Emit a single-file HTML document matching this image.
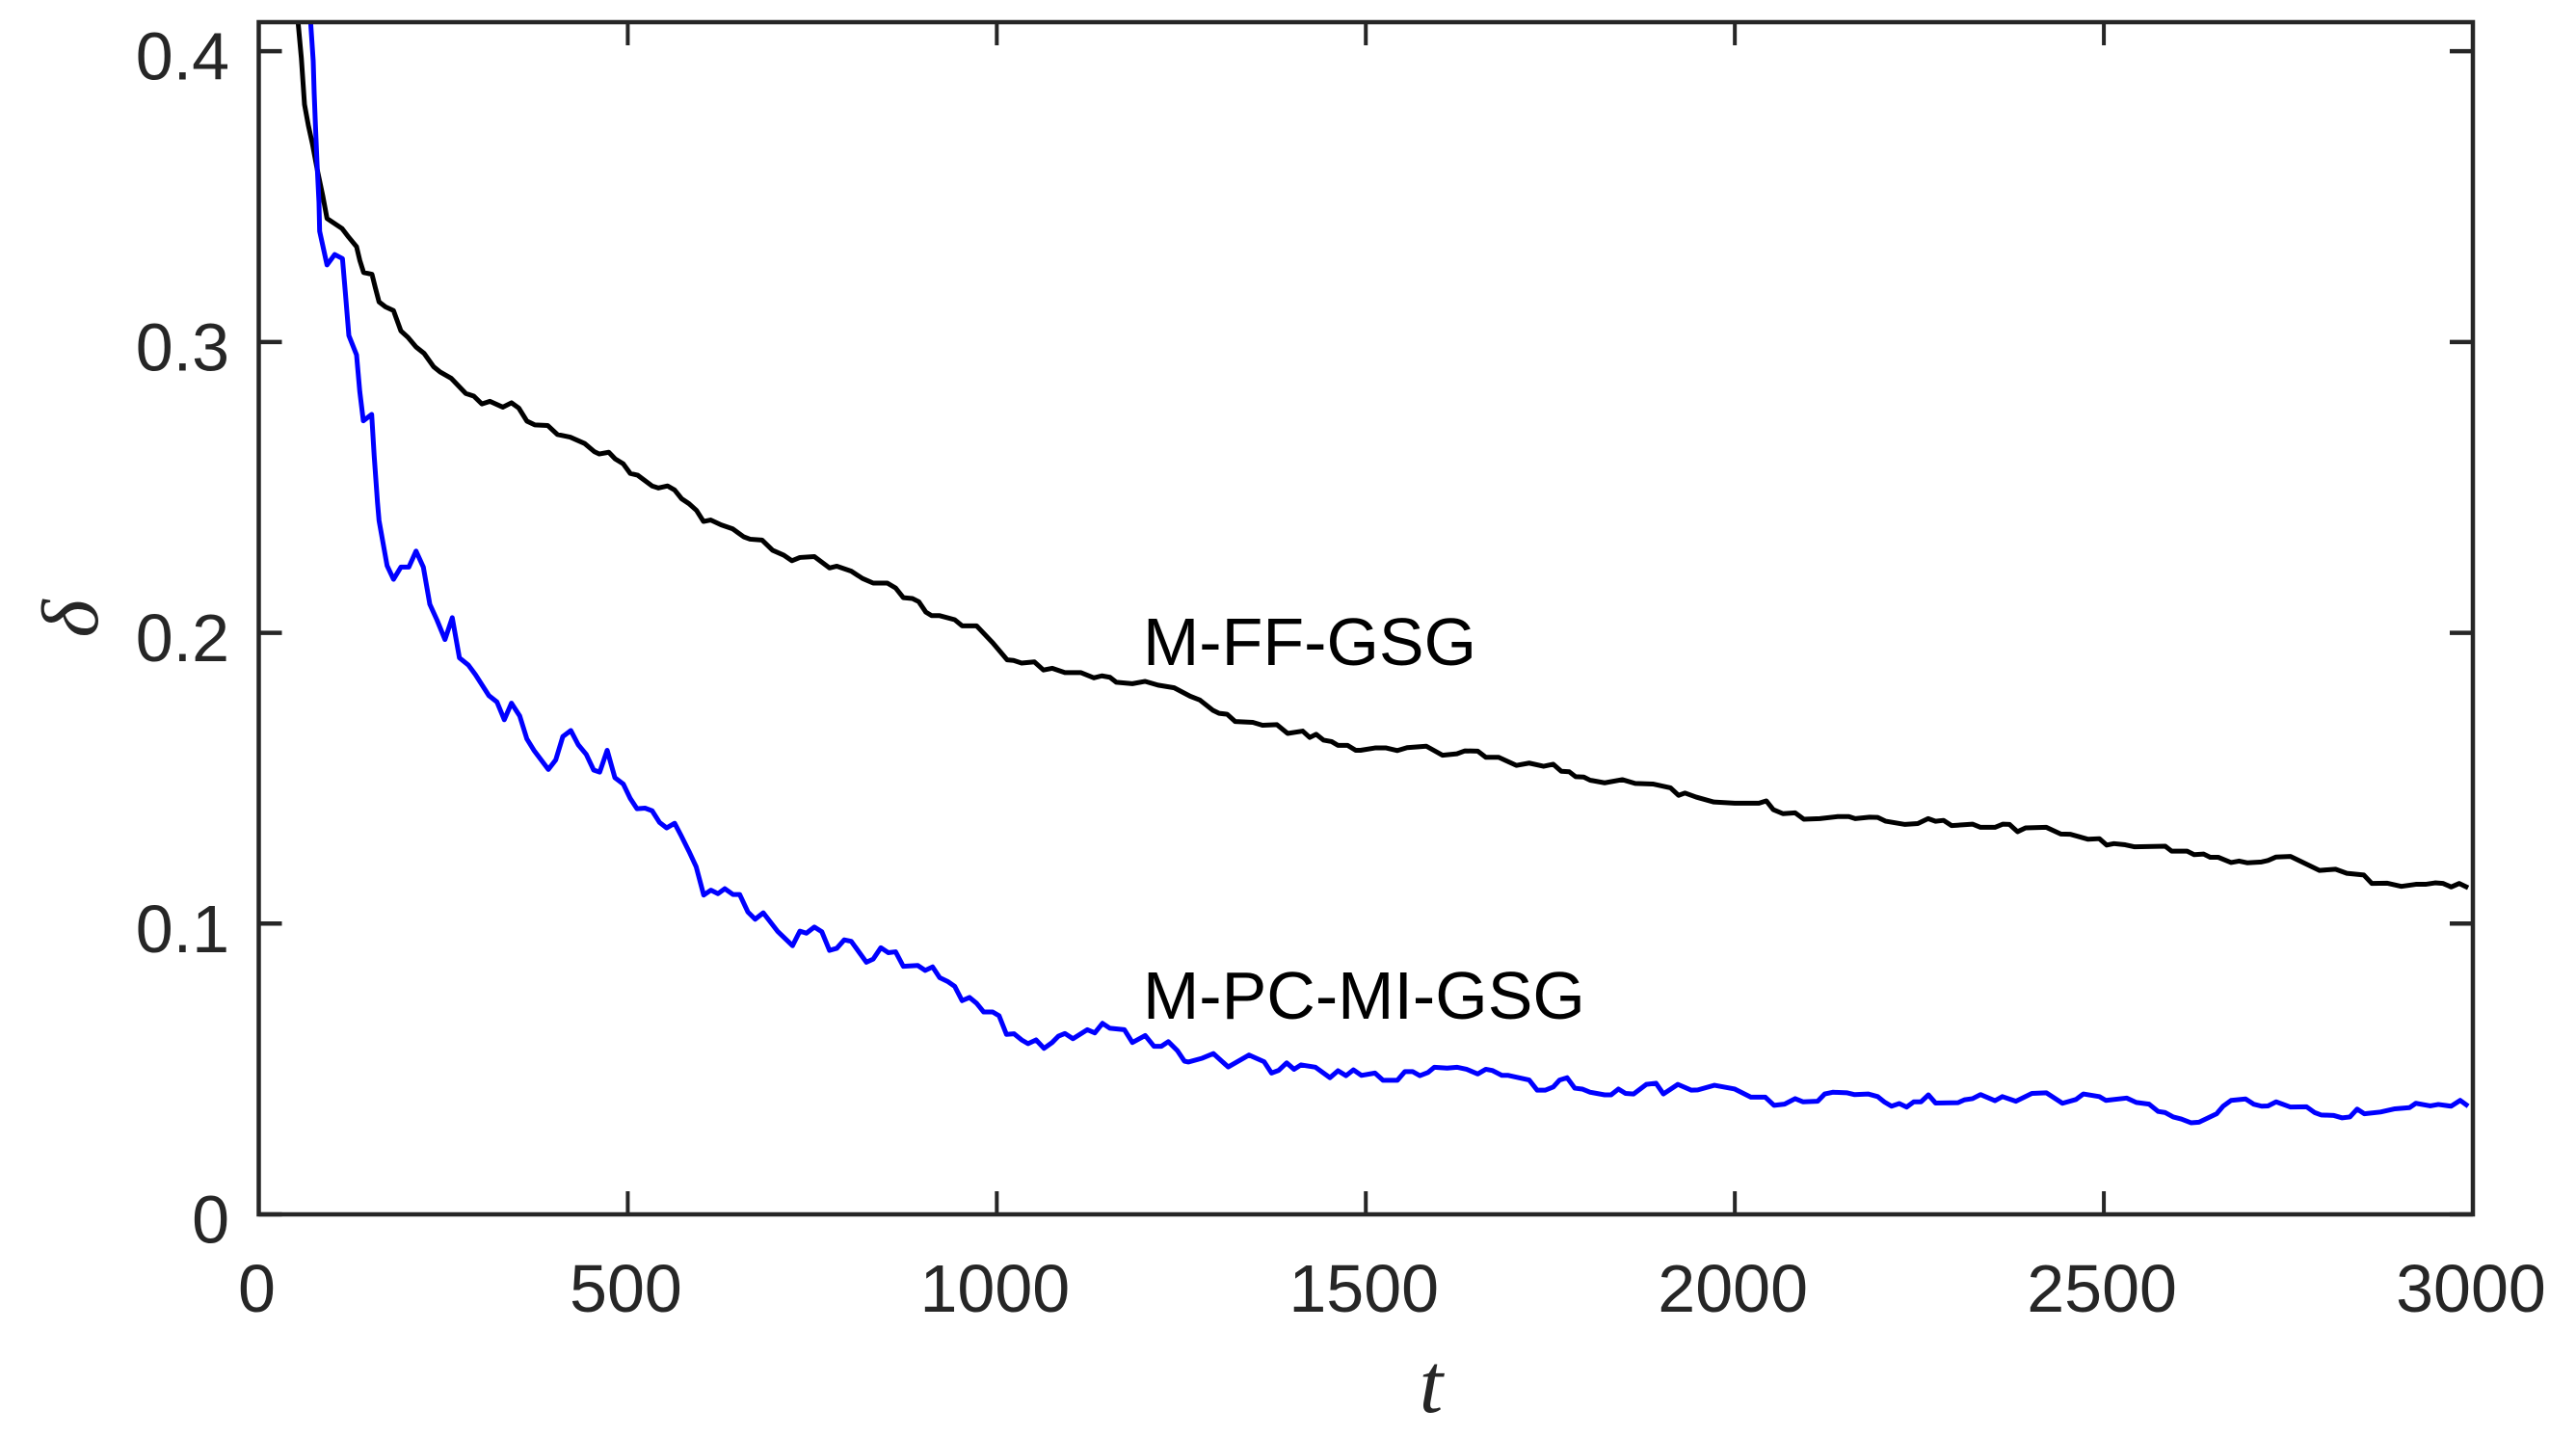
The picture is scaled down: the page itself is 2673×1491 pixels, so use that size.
<!DOCTYPE html>
<html lang="en">
<head>
<meta charset="utf-8">
<title>Delta versus t</title>
<style>
html,body{margin:0;padding:0;background:#fff;width:2673px;height:1491px;overflow:hidden}
svg{display:block}
text{font-family:"Liberation Sans",sans-serif;fill:#262626}
.tick-label{font-size:70px}
.anno{font-size:70px;fill:#000}
.math{font-family:"Liberation Serif",serif;font-style:italic}
</style>
</head>
<body>
<svg id="chart" xmlns="http://www.w3.org/2000/svg" width="2673" height="1491" viewBox="0 0 2673 1491">
  <rect x="0" y="0" width="2673" height="1491" fill="#ffffff"/>
  <defs><clipPath id="plot-clip"><rect id="clip-rect" x="0" y="0" width="0" height="0"/></clipPath></defs>
  <g id="series-layer" clip-path="url(#plot-clip)"></g>
  <g id="axes-layer"></g>
  <g id="labels-layer"></g>
  <text class="anno" x="1186" y="690">M-FF-GSG</text>
  <text class="anno" x="1186" y="1057">M-PC-MI-GSG</text>
  <text class="math" x="1485" y="1465" font-size="88" text-anchor="middle">t</text>
  <text class="math" transform="translate(101,642) rotate(-90)" font-size="84" text-anchor="middle">δ</text>
</svg>
<script>
const xTicks = [0, 500, 1000, 1500, 2000, 2500, 3000];
const yTicks = [0, 0.1, 0.2, 0.3, 0.4];
const xTickLabels = ["0", "500", "1000", "1500", "2000", "2500", "3000"];
const yTickLabels = ["0", "0.1", "0.2", "0.3", "0.4"];
const xDomain = [0, 3000];
const yDomain = [0, 0.41];

const ffTimes = [53.3,57.7,62,67.2,72.9,79.4,86.8,92.5,104.2,113,121.7,132.5,136.9,142.1,153.4,157.8,163,171.7,182.6,192.6,202.2,213.1,224,237,245.7,260.9,280.5,291.4,302.3,313.2,330.6,342.4,352.3,363.3,374.1,391.5,404.6,422,441.6,454.7,461.2,474.3,482.9,493.9,503.4,513.4,533,541.6,553.9,563.5,573,583,593.1,602.6,612.2,626.6,641.8,657.1,665.7,681.9,696.2,711.4,722.4,733.2,752.8,773.3,783.3,802.8,818,832.5,851.7,863,873.3,885.6,894.3,903.9,911.7,922.6,943,953,972.6,994.4,1014,1022.7,1033.6,1050.9,1063.2,1075,1092.3,1114.1,1131.5,1142.3,1153.3,1161.9,1183.7,1201.1,1218.5,1240.3,1262,1275.1,1292.5,1301.2,1312.1,1323,1346.9,1360,1379.6,1394,1414.5,1424,1432.7,1442.7,1453.6,1462.3,1475.3,1486.3,1492.8,1512.4,1527.6,1542.8,1555.9,1582,1603.8,1623.4,1634.3,1651.7,1662.6,1680,1703.9,1721.3,1740.9,1754,1764.8,1775.7,1784.4,1795.3,1804,1823.6,1847.5,1865,1888.9,1912.8,1923.7,1932.4,1947.7,1971.6,1999.9,2017.3,2032.6,2042.6,2052.1,2065.2,2081.7,2093.5,2115.2,2139.2,2154.4,2163.1,2182.7,2193.6,2204.5,2230.6,2247.9,2261.9,2271.9,2282.8,2293.7,2322,2332.9,2352.5,2363.3,2372.1,2383,2393.9,2422.1,2441.7,2454.8,2478.7,2493.9,2503.9,2513.6,2528.9,2541.8,2583.2,2591.9,2612.8,2622.3,2635.4,2644.1,2655,2672.4,2683.2,2694.1,2713.7,2722.4,2733.3,2752.9,2792.1,2813.9,2829.2,2852.3,2863.1,2883.5,2903.1,2922.7,2935.8,2948.8,2959.7,2970.6,2981.4,2993.6];
const ffDelta = [.4099,.3977,.3817,.3745,.3679,.3591,.3502,.3425,.3405,.339,.3361,.3328,.3281,.3239,.3233,.3188,.3138,.3121,.3108,.3038,.3016,.2983,.2961,.2915,.2897,.2875,.2823,.2814,.2787,.2796,.2776,.2791,.2773,.2728,.2715,.2713,.2682,.2673,.2651,.2623,.2615,.2621,.2598,.2581,.2548,.2542,.2505,.2498,.2505,.2491,.2461,.2444,.2421,.2383,.2388,.2371,.2358,.233,.2322,.2319,.2284,.2267,.2248,.2259,.2262,.2223,.2229,.2212,.2187,.2171,.2171,.2154,.2121,.2118,.2107,.2071,.2059,.2059,.2045,.2024,.2024,.1966,.1907,.1905,.1896,.19,.1872,.1878,.1863,.1863,.1845,.1852,.1847,.183,.1825,.1833,.182,.1811,.1782,.1769,.1734,.1723,.172,.1695,.1692,.1682,.1684,.1654,.1662,.164,.1651,.1631,.1626,.1613,.1613,.1596,.1596,.1604,.1604,.1595,.1605,.161,.1579,.1584,.1594,.1593,.1572,.1572,.1544,.1552,.1541,.1548,.1524,.1522,.1505,.1504,.1493,.1484,.1495,.1482,.148,.1467,.1441,.1449,.1435,.1418,.1414,.1414,.1414,.1422,.1392,.1378,.1381,.1359,.1361,.1368,.1368,.1361,.1366,.1365,.1352,.1341,.1344,.1361,.1352,.1355,.1337,.1342,.1331,.1331,.1342,.1341,.1316,.1329,.1331,.1308,.1307,.129,.1292,.127,.1275,.1271,.1264,.1266,.1249,.1249,.1237,.1239,.1228,.1228,.121,.1215,.1209,.1212,.1217,.1229,.1231,.1183,.1187,.1173,.1167,.1138,.1139,.1128,.1135,.1135,.114,.1138,.1126,.1138,.1123];

const pcTimes = [70.3,73.8,75.1,76.8,79,81.6,82.5,92.5,102.9,113.4,117.3,122.1,132.5,136.9,141.7,153,156.4,160.9,163,173.9,182.6,192.6,203.4,213.1,223,231.8,241.3,252.3,262.2,271.9,284,293.6,311.8,322.8,332.7,342.4,353.6,363.3,372.8,392.4,402.4,412,422.8,432.9,443.7,453.8,462,472.1,482.5,493.9,503.4,512.5,523.4,533,543,552.6,563.5,572.2,583,592.6,602.9,612.7,622.2,631.4,642.6,651.6,662.7,672.6,683.6,702.8,723.2,733.2,742,752.8,762.9,773.3,783.2,793.3,802.8,823.3,832.5,842.9,852.9,862.9,873.3,892.9,903,913,922.6,933.4,943,953,963,972.6,982.2,994.4,1003.1,1013.1,1023.5,1033.6,1042.3,1053.2,1064,1075,1083.6,1092.3,1103.2,1122.7,1132.8,1143.2,1153.3,1172.9,1183.7,1201.1,1212.9,1222.9,1232.4,1244.7,1254.2,1259.5,1278.3,1293.4,1313.5,1341.7,1362.2,1372.2,1381.8,1392.7,1402.7,1412.3,1431.8,1451.4,1462.3,1473.2,1483.2,1494.1,1512.4,1523.3,1542.8,1552.9,1563.3,1573.2,1584.2,1592.9,1610.3,1623.4,1636.5,1651.6,1662.6,1671.2,1684.3,1693,1721.3,1732.2,1743,1754,1762.6,1772.7,1783.1,1793.2,1804,1823.6,1832.3,1842.3,1851.9,1862.8,1880.1,1893.2,1903.2,1922.8,1941.1,1949.8,1972.4,1999.9,2021.7,2041.3,2053,2067.4,2081.7,2092.2,2112.2,2121.7,2132.7,2152.3,2161.8,2180.5,2193.6,2202.3,2212.3,2222.8,2232.7,2242.4,2252.3,2262.3,2271.9,2302.4,2311.1,2322,2332.9,2352.5,2362.5,2380.8,2402.5,2422.1,2443.9,2462.1,2472.2,2493.9,2502.7,2530.9,2543.9,2561.3,2573.5,2583.2,2594,2604.9,2618,2628.9,2652.8,2661.6,2672.4,2692,2702.9,2713.8,2722.4,2733.4,2753,2774.6,2785.6,2794.2,2811.7,2822.6,2833.4,2843.1,2853,2874.8,2894.4,2914,2922.7,2942.3,2953.2,2970.5,2982.8,2993.6];
const pcDelta = [.4099,.3966,.3856,.3745,.3613,.348,.3381,.3265,.3301,.3287,.3171,.3022,.2956,.2829,.2729,.2751,.2608,.2448,.2386,.2231,.2184,.2226,.2226,.2281,.2226,.2098,.2045,.1977,.2052,.1914,.1889,.1856,.1784,.1762,.1701,.1758,.1714,.1635,.1596,.153,.1563,.1643,.1664,.1615,.1582,.1528,.1521,.1596,.1502,.148,.143,.1395,.1397,.1388,.1348,.1329,.1345,.1303,.1248,.1196,.1098,.1115,.1103,.112,.11,.11,.104,.1015,.1037,.0974,.0924,.0974,.0967,.0988,.0972,.0908,.0915,.0944,.0939,.0867,.0878,.0917,.09,.0903,.0853,.0856,.0839,.0851,.0814,.0801,.0784,.0735,.0746,.0726,.0696,.0696,.0683,.0619,.0621,.06,.0587,.06,.0571,.0591,.0613,.0622,.0604,.0635,.0624,.0657,.064,.0635,.0591,.0615,.0578,.0578,.0594,.0563,.0527,.0524,.0537,.0553,.0507,.0548,.0525,.0486,.0495,.0521,.0499,.0514,.0506,.047,.0494,.0477,.0497,.0478,.0486,.0461,.0461,.0491,.0491,.0477,.0488,.0506,.0503,.0506,.0499,.0483,.0499,.0495,.0478,.0478,.0462,.0427,.0427,.0438,.0462,.047,.0434,.0431,.042,.0411,.0411,.0431,.0416,.0414,.0447,.0451,.0414,.0447,.0427,.0428,.0444,.0431,.0403,.0403,.0375,.0379,.0398,.0387,.0389,.0414,.042,.0418,.0412,.0414,.0405,.0387,.0372,.0381,.0369,.0387,.0387,.0411,.0383,.0384,.0394,.0398,.0412,.0391,.0405,.0389,.0416,.0418,.0382,.0395,.0414,.0405,.0392,.04,.0385,.0379,.0354,.035,.0335,.0328,.0315,.0317,.0346,.0372,.0392,.0397,.0379,.0372,.0373,.0387,.0369,.037,.035,.0342,.034,.0332,.0335,.0362,.0346,.0352,.0363,.0367,.0382,.0373,.0378,.0372,.0392,.0372];

const plotLeft = 268.5, plotRight = 2566, plotBottom = 1260, plotTop = 23;
const axisColor = '#262626';
const NS = 'http://www.w3.org/2000/svg';

function xScale(v) { return plotLeft + (v - xDomain[0]) / (xDomain[1] - xDomain[0]) * (plotRight - plotLeft); }
function yScale(v) { return plotBottom - (v - yDomain[0]) / (yDomain[1] - yDomain[0]) * (plotBottom - plotTop); }

function line(parent, x1, y1, x2, y2, w) {
  const el = document.createElementNS(NS, 'line');
  el.setAttribute('x1', x1); el.setAttribute('y1', y1);
  el.setAttribute('x2', x2); el.setAttribute('y2', y2);
  el.setAttribute('stroke', axisColor);
  el.setAttribute('stroke-width', w);
  parent.appendChild(el);
  return el;
}

const clipRect = document.getElementById('clip-rect');
clipRect.setAttribute('x', plotLeft);
clipRect.setAttribute('y', plotTop);
clipRect.setAttribute('width', plotRight - plotLeft);
clipRect.setAttribute('height', plotBottom - plotTop);

const seriesLayer = document.getElementById('series-layer');
function drawSeries(times, values, color) {
  const p = document.createElementNS(NS, 'polyline');
  const pts = times.map(function (t, i) { return xScale(t).toFixed(2) + ',' + yScale(values[i]).toFixed(2); });
  p.setAttribute('points', pts.join(' '));
  p.setAttribute('fill', 'none');
  p.setAttribute('stroke', color);
  p.setAttribute('stroke-width', 5);
  p.setAttribute('stroke-linejoin', 'round');
  seriesLayer.appendChild(p);
  return p;
}
const ffLine = drawSeries(ffTimes, ffDelta, '#000000');


const pcLine = drawSeries(pcTimes, pcDelta, '#0000ff');



const axes = document.getElementById('axes-layer');
const tickLen = 24;
xTicks.forEach(function (v) {
  const bottomTick = line(axes, xScale(v), plotBottom, xScale(v), plotBottom - tickLen, 4);
  
  
  const topTick = line(axes, xScale(v), plotTop, xScale(v), plotTop + tickLen, 4);
  
  
});
yTicks.forEach(function (v) {
  const leftTick = line(axes, plotLeft, yScale(v), plotLeft + tickLen, yScale(v), 4.5);
  
  
  const rightTick = line(axes, plotRight, yScale(v), plotRight - tickLen, yScale(v), 4.5);
  
  
});
const frame = document.createElementNS(NS, 'rect');
frame.setAttribute('x', plotLeft);
frame.setAttribute('y', plotTop);
frame.setAttribute('width', plotRight - plotLeft);
frame.setAttribute('height', plotBottom - plotTop);
frame.setAttribute('fill', 'none');
frame.setAttribute('stroke', axisColor);
frame.setAttribute('stroke-width', 4.5);


axes.appendChild(frame);

const labels = document.getElementById('labels-layer');
xTicks.forEach(function (v, i) {
  const t = document.createElementNS(NS, 'text');
  t.setAttribute('class', 'tick-label');
  t.setAttribute('x', xScale(v) - 2);
  t.setAttribute('y', 1361);
  t.setAttribute('text-anchor', 'middle');
  t.textContent = xTickLabels[i];
  
  
  labels.appendChild(t);
});
yTicks.forEach(function (v, i) {
  const t = document.createElementNS(NS, 'text');
  t.setAttribute('class', 'tick-label');
  t.setAttribute('x', 238);
  t.setAttribute('y', yScale(v) + 29.5);
  t.setAttribute('text-anchor', 'end');
  t.textContent = yTickLabels[i];
  
  
  labels.appendChild(t);
});
</script>
</body>
</html>
